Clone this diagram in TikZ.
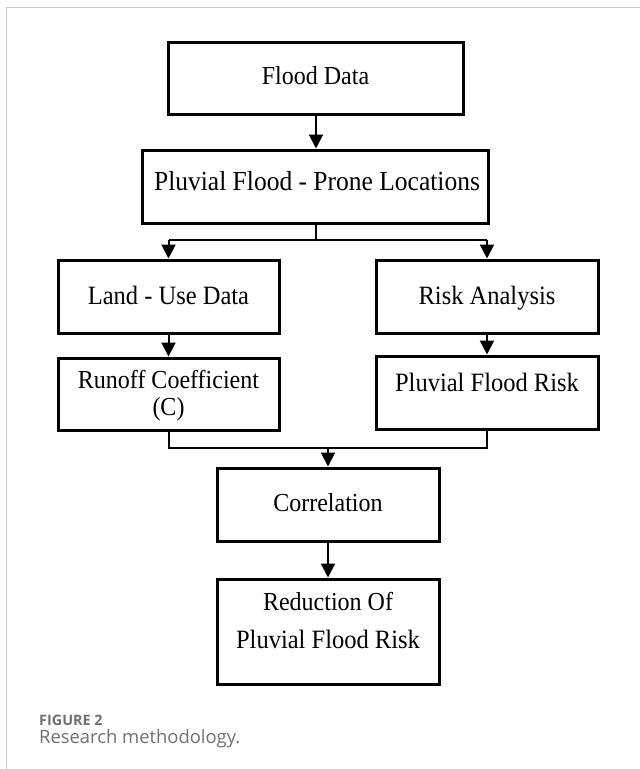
\documentclass[tikz,border=0pt]{standalone}
\usepackage{fontspec}
\usepackage{graphicx}
\setmainfont{Liberation Serif}
\newfontfamily\capfont{Open Sans}
\usetikzlibrary{arrows.meta}
\definecolor{framegray}{HTML}{C8C8C8}
\definecolor{capgray}{HTML}{707070}
\newcommand\talltext[1]{\scalebox{1}[1.08]{#1}}
\tikzset{
  box/.style={draw=black, line width=3pt, inner sep=0pt},
  txt/.style={anchor=base, inner sep=0pt, font=\fontsize{24}{24}\selectfont},
  conn/.style={line width=2pt},
  arr/.style={line width=2pt, -{Triangle[width=14pt,length=14pt]}},
  captext/.style={anchor=base west, inner sep=0pt, text=capgray},
}
\begin{document}
\begin{tikzpicture}[x=1pt,y=-1pt]
\useasboundingbox (0,0) rectangle (640,769);
\draw[framegray, line width=1.5pt] (6.3,769) -- (6.3,7.3) -- (640,7.3);
% boxes
\node[box, minimum width=295pt, minimum height=72pt] (fd) at (315.5,78) {};
\node[box, minimum width=346pt, minimum height=73pt] (pl) at (315,186.5) {};
\node[box, minimum width=221pt, minimum height=73pt] (lu) at (168.5,296.5) {};
\node[box, minimum width=222pt, minimum height=73pt] (ra) at (487,296.5) {};
\node[box, minimum width=221pt, minimum height=72pt] (rc) at (168.5,394) {};
\node[box, minimum width=222pt, minimum height=73pt] (pfr) at (487,392.5) {};
\node[box, minimum width=222pt, minimum height=73pt] (co) at (328,504.5) {};
\node[box, minimum width=222pt, minimum height=105pt] (rd) at (328,631.5) {};
% texts
\node[txt] (tfd) at (315.5,84) {\talltext{Flood Data}};
\node[txt, font=\fontsize{25.5}{25.5}\selectfont] (tpl) at (317,190) {\talltext{Pluvial Flood - Prone Locations}};
\node[txt, font=\fontsize{24.5}{24.5}\selectfont] (tlu) at (168.5,304) {\talltext{Land - Use Data}};
\node[txt, font=\fontsize{24.5}{24.5}\selectfont] (tra) at (487,304) {\talltext{Risk Analysis}};
\node[txt] (trc1) at (168.5,388) {\talltext{Runoff Coefficient}};
\node[txt] (trc2) at (168.5,415) {\talltext{(C)}};
\node[txt, font=\fontsize{24.5}{24.5}\selectfont] (tpfr) at (487,391) {\talltext{Pluvial Flood Risk}};
\node[txt] (tco) at (328,511) {\talltext{Correlation}};
\node[txt] (trd1) at (328,610) {\talltext{Reduction Of}};
\node[txt, font=\fontsize{24.5}{24.5}\selectfont] (trd2) at (328,648) {\talltext{Pluvial Flood Risk}};
% connectors
\coordinate (split) at (316,240);
\coordinate (merge) at (328,448);
\draw[arr] (fd.south -| split) -- (pl.north -| split);
\draw[conn] (pl.south -| split) -- (split);
\draw[conn] (lu.north |- split) -- (ra.north |- split);
\draw[arr] (lu.north |- split) -- (lu.north);
\draw[arr] (ra.north |- split) -- (ra.north);
\draw[arr] (lu.south) -- (rc.north);
\draw[arr] (ra.south) -- (pfr.north);
\draw[conn] (rc.south) -- (rc.south |- merge) -- (pfr.south |- merge) -- (pfr.south);
\draw[arr] (merge) -- (co.north);
\draw[arr] (co.south) -- (rd.north);
% caption
\node[captext, font=\capfont\bfseries\fontsize{14.4}{15}\selectfont] (fig) at (39,725) {FIGURE 2};
\node[captext, font=\capfont\fontsize{18.4}{19}\selectfont] (rm) at (39,743) {Research methodology.};
\end{tikzpicture}
\end{document}
